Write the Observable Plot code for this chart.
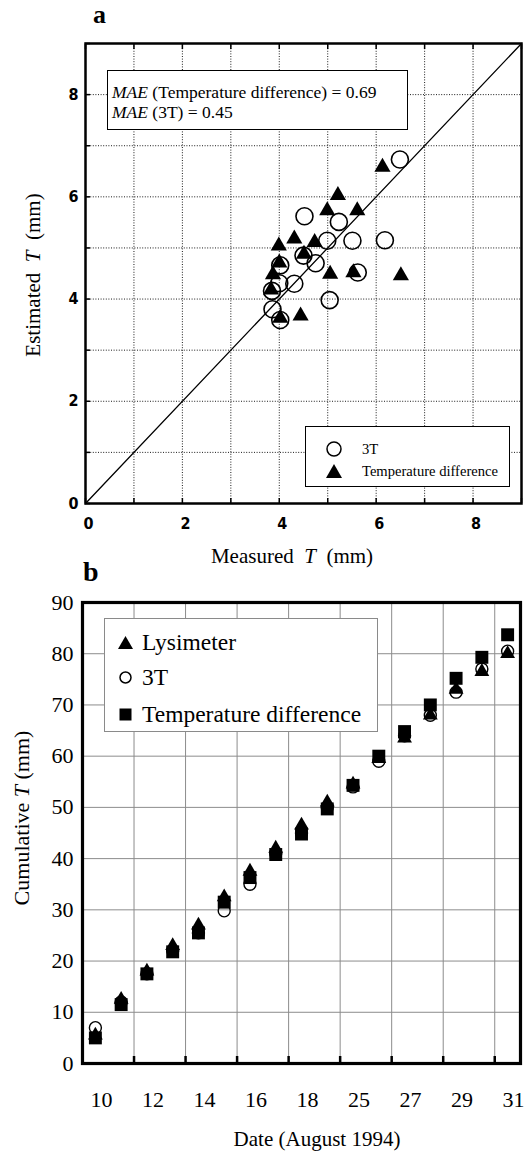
<!DOCTYPE html>
<html>
<head>
<meta charset="utf-8">
<script src="https://cdn.jsdelivr.net/npm/d3@7"></script>
<script src="https://cdn.jsdelivr.net/npm/@observablehq/plot@0.6"></script>
<style>
  html, body { margin: 0; padding: 0; background: #fff; }
  #wrap { position: relative; width: 525px; height: 1153px; overflow: hidden; background: #fff; }
  .abs { position: absolute; white-space: nowrap; font-family: "Liberation Serif", "DejaVu Serif", serif; color: #000; }
  .plot { position: absolute; left: 0; }
  .legA { position: absolute; border: 1.5px solid #000; background: #fff; box-sizing: border-box; }
  .legB { position: absolute; border: 1px solid #8a8a8a; background: #fff; box-sizing: border-box; }
</style>
</head>
<body>
<div id="wrap"></div>
<script>
// ---------- Panel a data ----------
const measured3T = [6.49, 4.52, 5.23, 4.99, 5.51, 6.18, 4.50, 4.75, 4.02, 5.62, 4.31, 4.00, 3.85, 5.04, 3.86, 4.02];
const estimated3T = [6.73, 5.62, 5.51, 5.14, 5.14, 5.15, 4.85, 4.70, 4.66, 4.52, 4.30, 4.31, 4.16, 3.98, 3.80, 3.59];
const measuredTD = [6.13, 5.21, 4.99, 5.61, 4.31, 3.99, 4.73, 4.51, 4.00, 3.87, 5.05, 5.53, 6.51, 3.83, 4.02, 4.44];
const estimatedTD = [6.58, 6.03, 5.73, 5.73, 5.18, 5.04, 5.11, 4.88, 4.71, 4.48, 4.49, 4.52, 4.46, 4.18, 3.63, 3.67];
const axisTicksA = [0, 2, 4, 6, 8];
const gridA = [1, 2, 3, 4, 5, 6, 7, 8];
const minorA = [0, 1, 2, 3, 4, 5, 6, 7, 8, 9];
const diagonal = [0, 9];
const mae = [["Temperature difference", "0.69"], ["3T", "0.45"]];

// ---------- Panel b data ----------
const dates = ["10", "11", "12", "13", "14", "15", "16", "17", "18", "24", "25", "26", "27", "28", "29", "30", "31"];
const lysimeter = [5.5, 12.5, 18, 23, 27, 32.5, 37.5, 42, 46.5, 51, 54.5, 59.5, 63.5, 68, 73, 76.5, 80];
const threeT = [7, 12, 17.5, 22, 25.5, 29.8, 35, 41, 45, 50, 54, 59, 64, 68, 72.5, 77, 80.5];
const tempDiff = [5, 11.5, 17.5, 21.8, 25.5, 31.5, 36.3, 40.8, 44.8, 49.7, 54.3, 60, 64.8, 70, 75.2, 79.3, 83.7];
const yTicksB = [0, 10, 20, 30, 40, 50, 60, 70, 80, 90];
const dateLabelIdx = [0, 2, 4, 6, 8, 10, 12, 14, 16];

const serif = '"Liberation Serif", "DejaVu Serif", serif';
const narrow = '"Liberation Sans Narrow", "Arial Narrow", "DejaVu Sans Condensed", sans-serif';
const wrap = document.getElementById("wrap");

// ---------- Panel a ----------
const ptsA3T = measured3T.map((m, i) => ({x: m, y: estimated3T[i]}));
const ptsATD = measuredTD.map((m, i) => ({x: m, y: estimatedTD[i]}));

const plotA = Plot.plot({
  width: 525, height: 540,
  marginTop: 43, marginBottom: 37, marginLeft: 85, marginRight: 4,
  x: {domain: [0, 9]},
  y: {domain: [0, 9]},
  style: {background: "transparent"},
  marks: [
    Plot.ruleX(gridA, {x: d => d, stroke: "#000", strokeWidth: 0.9, strokeDasharray: "1,1.6"}),
    Plot.ruleY(gridA, {y: d => d, stroke: "#000", strokeWidth: 0.9, strokeDasharray: "1,1.6"}),
    Plot.line(diagonal, {x: d => d, y: d => d, stroke: "#000", strokeWidth: 1.3}),
    Plot.dot(ptsA3T, {x: "x", y: "y", r: 8.5, stroke: "#000", strokeWidth: 1.6, fill: "none"}),
    Plot.dot(ptsATD, {x: "x", y: "y", symbol: "triangle", r: 6, fill: "#000", stroke: "none"}),
    Plot.axisX({anchor: "bottom", ticks: minorA, tickSize: -5, strokeWidth: 1.5, tickFormat: () => "", label: null}),
    Plot.axisX({anchor: "top", ticks: minorA, tickSize: -5, strokeWidth: 1.5, tickFormat: () => "", label: null}),
    Plot.axisY({anchor: "left", ticks: minorA, tickSize: -5, strokeWidth: 1.5, tickFormat: () => "", label: null}),
    Plot.axisX({anchor: "bottom", ticks: axisTicksA, tickSize: 0, tickPadding: 14, dx: 3, label: null,
      fontFamily: narrow, fontSize: 16, fontWeight: "bold", tickFormat: d => String(d)}),
    Plot.axisY({anchor: "left", ticks: axisTicksA, tickSize: 0, tickPadding: 7, label: null,
      fontFamily: narrow, fontSize: 16, fontWeight: "bold", tickFormat: d => String(d)}),
    Plot.frame({stroke: "#000", strokeWidth: 2.5})
  ]
});
plotA.classList.add("plot");
plotA.style.top = "0px";
wrap.appendChild(plotA);

// ---------- Panel b ----------
const rowsB = dates.map((d, i) => ({i, date: d, lys: lysimeter[i], t3: threeT[i], td: tempDiff[i]}));
const gridXB = d3.range(1.5, dates.length - 1, 2);
const gridYB = yTicksB.slice(1, -1);

const plotB = Plot.plot({
  width: 525, height: 573,
  marginTop: 22, marginBottom: 90, marginLeft: 82, marginRight: 5,
  x: {domain: [-0.5, dates.length - 0.5]},
  y: {domain: [0, 90]},
  style: {background: "transparent"},
  marks: [
    Plot.ruleY(gridYB, {y: d => d, stroke: "#8c8c8c", strokeWidth: 1}),
    Plot.ruleX(gridXB, {x: d => d, stroke: "#8c8c8c", strokeWidth: 1}),
    Plot.dot(rowsB, {x: "i", y: "td", symbol: "square", r: 7.3, fill: "#000", stroke: "none"}),
    Plot.dot(rowsB, {x: "i", y: "lys", symbol: "triangle", r: 5.5, fill: "#000", stroke: "none"}),
    Plot.dot(rowsB, {x: "i", y: "t3", r: 6, fill: "none", stroke: "#000", strokeWidth: 1.4}),
    Plot.axisX({anchor: "bottom", ticks: gridXB, tickSize: -7, strokeWidth: 2.5, tickFormat: () => "", label: null}),
    Plot.axisX({anchor: "bottom", ticks: dateLabelIdx, tickSize: 0, tickPadding: 28, dx: 6, label: null,
      fontFamily: serif, fontSize: 22, tickFormat: i => dates[i]}),
    Plot.axisY({anchor: "left", ticks: yTicksB, tickSize: 0, tickPadding: 9, label: null,
      fontFamily: serif, fontSize: 22, tickFormat: d => String(d)}),
    Plot.frame({stroke: "#000", strokeWidth: 3.2})
  ]
});
plotB.classList.add("plot");
plotB.style.top = "580px";
wrap.appendChild(plotB);

// ---------- HTML text / legends ----------
function addDiv(html, css, cls = "abs") {
  const d = document.createElement("div");
  d.className = cls;
  d.innerHTML = html;
  Object.assign(d.style, css);
  wrap.appendChild(d);
  return d;
}
function sym(kind, size) {
  const s = size, h = s / 2;
  let shape = "";
  if (kind === "circle") shape = `<circle cx="${h}" cy="${h}" r="${h - 1}" fill="none" stroke="#000" stroke-width="1.5"/>`;
  if (kind === "triangle") shape = `<path d="M${h},1 L${s},${s - 1} L0,${s - 1} Z" fill="#000"/>`;
  if (kind === "square") shape = `<rect x="0.5" y="0.5" width="${s - 1}" height="${s - 1}" fill="#000"/>`;
  return `<svg width="${s}" height="${s}" style="position:absolute;left:0;top:0">${shape}</svg>`;
}
function addText(parent, html, css) {
  const t = document.createElement("div");
  t.className = "abs";
  t.innerHTML = html;
  t.style.fontFamily = serif;
  Object.assign(t.style, css);
  parent.appendChild(t);
  return t;
}

// panel letters
addDiv("a", {left: "93px", top: "0px", fontSize: "26px", fontWeight: "bold", lineHeight: "30px", fontFamily: serif});
addDiv("b", {left: "83px", top: "556px", fontSize: "28px", fontWeight: "bold", lineHeight: "32px", fontFamily: serif});

// panel a axis labels
addDiv('Measured&nbsp; <i>T</i>&nbsp; (mm)', {left: "292px", top: "543px", fontSize: "21px", lineHeight: "26px", fontFamily: serif, transform: "translateX(-50%)"});
addDiv('Estimated&nbsp; <i>T</i>&nbsp; (mm)', {left: "33px", top: "275px", fontSize: "21px", lineHeight: "26px", fontFamily: serif, transform: "translate(-50%,-50%) rotate(-90deg)"});

// MAE box
const maeBox = addDiv("", {left: "107px", top: "70px", width: "301px", height: "60px"}, "legA");
mae.forEach(([name, val], k) => {
  addText(maeBox, `<i>MAE</i> (${name}) = ${val}`, {left: "4px", top: (11 + k * 20) + "px", fontSize: "17.5px", lineHeight: "20px"});
});

// legend a
const legA = addDiv("", {left: "305px", top: "426px", width: "205px", height: "61px"}, "legA");
[["circle", "3T", 22], ["triangle", "Temperature difference", 44]].forEach(([k, label, cy]) => {
  const s = document.createElement("div");
  s.style.position = "absolute";
  s.style.left = "20px";
  s.style.top = (cy - 8) + "px";
  s.innerHTML = sym(k, 16);
  legA.appendChild(s);
  addText(legA, label, {left: "56px", top: (cy - 9) + "px", fontSize: "14.6px", lineHeight: "18px"});
});

// panel b axis labels
addDiv('Cumulative <i>T</i> (mm)', {left: "22px", top: "818px", fontSize: "22px", lineHeight: "26px", fontFamily: serif, transform: "translate(-50%,-50%) rotate(-90deg)"});
addDiv('Date (August 1994)', {left: "317px", top: "1127px", fontSize: "21px", lineHeight: "24px", fontFamily: serif, transform: "translateX(-50%)"});

// legend b
const legB = addDiv("", {left: "104px", top: "618px", width: "274px", height: "114px"}, "legB");
[["triangle", "Lysimeter", 23, 15], ["circle", "3T", 58, 13], ["square", "Temperature difference", 95, 13]].forEach(([k, label, cy, sz]) => {
  const s = document.createElement("div");
  s.style.position = "absolute";
  s.style.left = (20 - sz / 2) + "px";
  s.style.top = (cy - sz / 2) + "px";
  s.innerHTML = sym(k, sz);
  legB.appendChild(s);
  addText(legB, label, {left: "37px", top: (cy - 14) + "px", fontSize: "23.5px", lineHeight: "28px"});
});
</script>
</body>
</html>
